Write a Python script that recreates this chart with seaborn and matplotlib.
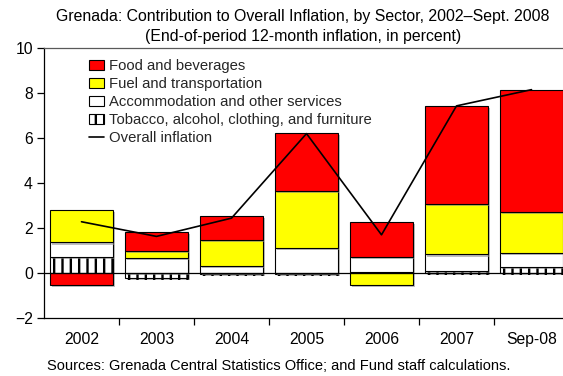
import numpy as np
import matplotlib
matplotlib.use("Agg")
import matplotlib.pyplot as plt
import matplotlib.patheffects as pe
from matplotlib.patches import Patch
from matplotlib.lines import Line2D
import seaborn as sns

# Contributions to 12-month inflation (percentage points)
years = ["2002", "2003", "2004", "2005", "2006", "2007", "Sep-08"]
tobacco = [0.70, -0.22, -0.06, -0.03, 0.06, 0.10, 0.28]
accommodation = [0.65, 0.68, 0.30, 1.10, 0.66, 0.72, 0.62]
fuel = [1.44, 0.28, 1.15, 2.54, -0.55, 2.25, 1.81]
food = [-0.53, 0.86, 1.07, 2.55, 1.53, 4.34, 5.42]
overall = [2.27, 1.62, 2.43, 6.18, 1.69, 7.41, 8.13]

sns.set_theme(style="white")
plt.rcParams["font.family"] = ["Liberation Sans", "DejaVu Sans"]
plt.rcParams["hatch.linewidth"] = 1.7

fig = plt.figure(figsize=(5.63, 3.76), dpi=100)
ax = fig.add_axes([44 / 563, 58 / 376, 525 / 563, 270.5 / 376])

x = np.arange(len(years))
width = 0.83
shadow = [pe.SimplePatchShadow(offset=(1.5, -1.5), shadow_rgbFace="0.55", alpha=0.55), pe.Normal()]

series = [
    (tobacco, "white", "||", "Tobacco, alcohol, clothing, and furniture"),
    (accommodation, "white", None, "Accommodation and other services"),
    (fuel, "#FFFF00", None, "Fuel and transportation"),
    (food, "#FF0000", None, "Food and beverages"),
]

pos_base = np.zeros(len(years))
neg_base = np.zeros(len(years))
for vals, color, hatch, label in series:
    vals = np.asarray(vals, dtype=float)
    bottoms = np.where(vals >= 0, pos_base, neg_base)
    bars = ax.bar(x, vals, width=width, bottom=bottoms, color=color,
                  edgecolor="black", linewidth=0.8, hatch=hatch, zorder=2)
    for b in bars:
        b.set_path_effects(shadow)
    pos_base = pos_base + np.where(vals >= 0, vals, 0)
    neg_base = neg_base + np.where(vals < 0, vals, 0)

sns.lineplot(x=x, y=overall, ax=ax, color="black", linewidth=1.2, zorder=4)
ax.axhline(0, color="black", linewidth=0.9, zorder=3)

ax.set_xlim(-0.5, 6.5)
ax.set_ylim(-2, 10)
ax.set_yticks(np.arange(-2, 11, 2))
ax.set_xticks(x)
ax.set_xticklabels(years)
ax.set_xticks(np.arange(0.5, 6.5, 1), minor=True)
ax.tick_params(axis="x", which="major", length=0, pad=10, labelsize=11.3, colors="black")
ax.tick_params(axis="x", which="minor", direction="out", length=5, width=0.9,
               color="black", bottom=True)
ax.tick_params(axis="y", direction="out", length=5, width=0.9, pad=3,
               labelsize=11.3, colors="black", left=True)
ax.grid(False)
for side in ["left", "bottom", "top"]:
    ax.spines[side].set_visible(True)
    ax.spines[side].set_color("black")
    ax.spines[side].set_linewidth(0.9)
ax.spines["top"].set_color("0.35")
ax.spines["right"].set_visible(False)

handles = [
    Patch(facecolor="#FF0000", edgecolor="black", linewidth=0.8),
    Patch(facecolor="#FFFF00", edgecolor="black", linewidth=0.8),
    Patch(facecolor="white", edgecolor="black", linewidth=0.8),
    Patch(facecolor="white", edgecolor="black", linewidth=0.8, hatch="||"),
    Line2D([0], [0], color="black", linewidth=1.2),
]
labels = ["Food and beverages", "Fuel and transportation",
          "Accommodation and other services",
          "Tobacco, alcohol, clothing, and furniture", "Overall inflation"]
fig.legend(handles, labels, loc="upper left", bbox_to_anchor=(89 / 563, 1 - 59 / 376),
           frameon=False, fontsize=10.7, handlelength=1.0, handleheight=0.7,
           handletextpad=0.35, labelspacing=0.27, borderpad=0, borderaxespad=0)

fig.text(303 / 563, 1 - 16 / 376,
         "Grenada: Contribution to Overall Inflation, by Sector, 2002\u2013Sept. 2008",
         ha="center", va="center", fontsize=11.4, color="black")
fig.text(303 / 563, 1 - 36 / 376,
         "(End-of-period 12-month inflation, in percent)",
         ha="center", va="center", fontsize=11.4, color="black")
fig.text(47 / 563, 1 - 366 / 376,
         "Sources: Grenada Central Statistics Office; and Fund staff calculations.",
         ha="left", va="center", fontsize=10.5, color="black")

fig.savefig("out.png", dpi=100)
